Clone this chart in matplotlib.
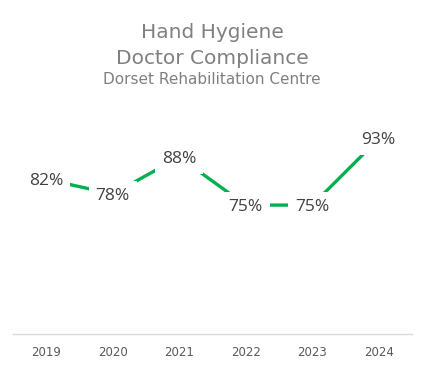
import matplotlib.pyplot as plt

years = ['2019', '2020', '2021', '2022', '2023', '2024']
compliance = [82, 78, 88, 75, 75, 93]

fig = plt.figure(figsize=(4.24, 3.65), dpi=100)
ax = fig.add_axes([13 / 424, 1 - 334 / 365, 399 / 424, 221 / 365])

x = range(len(years))
ax.plot(x, compliance, color='#00b050', linewidth=2.4, solid_capstyle='butt')
for i, v in zip(x, compliance):
    ax.text(i, v - 0.4, f'{v}%', ha='center', va='center', fontsize=12.5, color='#404040',
            family='Open Sans',
            bbox=dict(boxstyle='square,pad=0.4', fc='white', ec='none'))

ax.set_xlim(-0.5, len(years) - 0.5)
ax.set_ylim(40, 100)
ax.set_xticks(list(x))
ax.set_xticklabels(years, fontsize=8.5, color='#595959')
ax.set_yticks([])
ax.tick_params(axis='x', length=0, pad=9)
for s in ['top', 'left', 'right']:
    ax.spines[s].set_visible(False)
ax.spines['bottom'].set_color('#d9d9d9')
ax.spines['bottom'].set_linewidth(1)

fig.text(0.5, 1 - 32 / 365, 'Hand Hygiene', ha='center', va='center', fontsize=14.5, color='#808080')
fig.text(0.5, 1 - 58 / 365, 'Doctor Compliance', ha='center', va='center', fontsize=14.5, color='#808080')
fig.text(0.5, 1 - 80 / 365, 'Dorset Rehabilitation Centre', ha='center', va='center', fontsize=11, color='#808080')

fig.savefig('out.png', dpi=100)
